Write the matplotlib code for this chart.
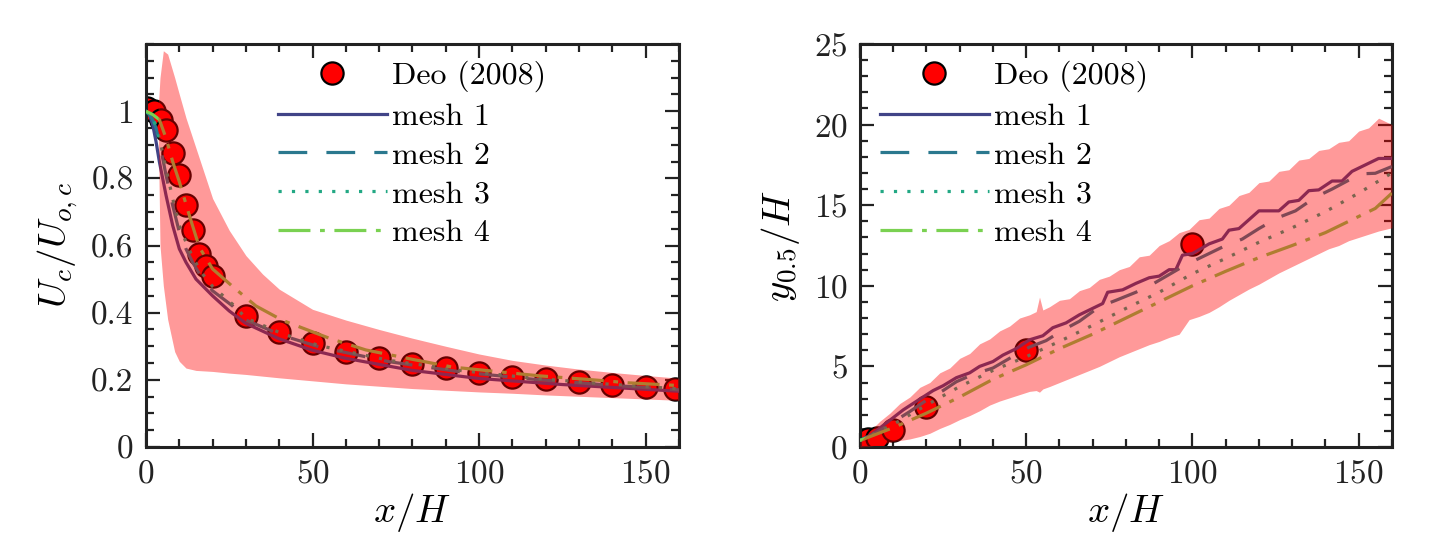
import matplotlib
matplotlib.use("Agg")
import matplotlib.pyplot as plt
from matplotlib.ticker import MultipleLocator
import numpy as np

plt.rcParams['font.family'] = 'serif'
plt.rcParams['font.serif'] = ['cmr10']
plt.rcParams['mathtext.fontset'] = 'cm'
plt.rcParams['axes.formatter.use_mathtext'] = True

# ---- left panel: centreline velocity decay ----
deo_x_u = [0.3, 2.5, 4.5, 6, 8, 10, 12, 14, 16, 18, 20, 30, 40, 50, 60, 70, 80, 90,
           100, 110, 120, 130, 140, 150, 159]
deo_u = [1.01, 1.0, 0.975, 0.945, 0.875, 0.81, 0.72, 0.645, 0.575, 0.54, 0.51, 0.39,
         0.343, 0.309, 0.284, 0.265, 0.247, 0.234, 0.221, 0.209, 0.201, 0.193, 0.186,
         0.178, 0.173]

m1_x_u = [0, 1, 2, 3, 4, 5, 6, 8, 10, 12, 15, 20, 25, 30, 40, 50, 60, 80, 100, 125, 160]
m1_u = [1.0, 0.99, 0.96, 0.91, 0.85, 0.8, 0.75, 0.66, 0.59, 0.55, 0.5, 0.45, 0.405,
        0.368, 0.322, 0.288, 0.264, 0.228, 0.204, 0.186, 0.166]
m2_x_u = [0, 1, 2, 3, 4, 5, 6, 8, 10, 12, 14, 17, 20, 26, 30, 41, 52, 73, 95, 116, 138, 160]
m2_u = [1.0, 0.99, 0.975, 0.95, 0.91, 0.86, 0.81, 0.72, 0.64, 0.59, 0.55, 0.5, 0.465,
        0.42, 0.378, 0.332, 0.298, 0.254, 0.223, 0.202, 0.185, 0.17]
m3_x_u = [0, 1, 2, 3, 4, 5, 6, 8, 10, 12, 14, 17, 20, 26, 30, 41, 52, 73, 95, 116, 138, 160]
m3_u = [1.0, 0.99, 0.98, 0.955, 0.92, 0.875, 0.83, 0.74, 0.66, 0.61, 0.565, 0.515, 0.478,
        0.425, 0.384, 0.337, 0.302, 0.258, 0.227, 0.205, 0.188, 0.173]
m4_x_u = [0, 2, 4, 6, 8, 10, 13, 16, 20, 26, 33, 41, 55, 66, 80, 92, 105, 118, 133, 145, 160]
m4_u = [1.0, 0.99, 0.975, 0.92, 0.85, 0.79, 0.69, 0.595, 0.53, 0.478, 0.42, 0.377, 0.324,
        0.289, 0.261, 0.238, 0.225, 0.212, 0.201, 0.191, 0.183]

band_x_u = [3.6, 4.2, 5.2, 6.5, 8.6, 10, 12, 15, 20, 25, 30, 35, 40, 50, 60, 70, 80, 90,
            100, 110, 120, 130, 140, 150, 160]
band_hi_u = [1.0, 1.1, 1.18, 1.17, 1.1, 1.05, 0.98, 0.89, 0.74, 0.645, 0.57, 0.515, 0.47,
             0.41, 0.378, 0.35, 0.324, 0.3, 0.277, 0.258, 0.244, 0.232, 0.222, 0.213, 0.205]
band_lo_u = [0.99, 0.6, 0.48, 0.38, 0.284, 0.255, 0.235, 0.228, 0.225, 0.22, 0.216, 0.211,
             0.206, 0.197, 0.188, 0.181, 0.174, 0.169, 0.164, 0.16, 0.155, 0.151, 0.147,
             0.143, 0.139]

# ---- right panel: half-width growth ----
deo_x_y = [0.5, 2.5, 5, 10, 20, 50, 100]
deo_y = [0.43, 0.48, 0.55, 1.05, 2.5, 6.0, 12.6]

m1_x_y = [0, 3, 8, 13, 18.6, 22, 25, 29, 33, 36, 40, 43, 47, 51, 55, 58, 62, 66, 70, 73,
          74.5, 79, 83, 87, 90, 93, 95, 97, 100, 105, 109, 111, 114, 117, 120, 126, 129,
          132, 135, 138, 142, 145, 148, 152, 156, 160]
m1_y = [0.4, 0.7, 1.5, 2.3, 3.05, 3.5, 3.8, 4.3, 4.6, 5.0, 5.3, 5.7, 6.1, 6.65, 6.9, 7.4,
        7.7, 8.2, 8.6, 8.9, 9.6, 9.75, 10.15, 10.5, 10.6, 11.0, 11.0, 11.9, 12.0, 12.6, 12.9,
        13.45, 13.55, 14.1, 14.65, 14.65, 15.2, 15.3, 15.9, 15.95, 16.5, 16.5, 17.1, 17.5,
        17.9, 17.9]
m2_x_y = [0, 5, 10, 15, 20, 25, 29, 34, 40, 45, 51, 56, 61, 66, 72, 77, 83, 88, 93, 98,
          104, 109, 115, 120, 126, 131, 137, 142, 147, 151, 155, 160]
m2_y = [0.4, 0.9, 1.55, 2.2, 2.9, 3.5, 4.05, 4.5, 4.9, 5.5, 6.2, 6.6, 7.25, 7.8, 8.7, 9.1,
        9.6, 10.1, 10.7, 11.3, 11.9, 12.4, 12.9, 13.55, 14.25, 14.65, 15.5, 16.0, 16.55,
        16.95, 16.98, 17.4]
m3_x_y = [0, 10, 20, 30, 40, 50, 60, 70, 80, 90, 100, 110, 120, 130, 140, 150, 160]
m3_y = [0.4, 1.4, 2.6, 3.75, 4.75, 5.6, 6.55, 7.55, 8.6, 9.6, 10.75, 11.7, 12.7,
        13.6, 14.6, 15.75, 17.0]
m4_x_y = [0, 10, 20, 30, 40, 50, 60, 70, 80, 90, 100, 110, 120, 130, 140, 150, 155, 160]
m4_y = [0.4, 1.2, 2.1, 3.1, 4.2, 5.1, 6.1, 7.0, 8.0, 9.0, 10.0, 10.9, 11.75, 12.5,
        13.3, 14.3, 14.8, 15.75]

band_x_y = [0, 3, 6, 9, 12, 15, 18, 21, 24, 27, 30, 33, 36, 39, 42, 45, 48, 51, 53, 54,
            55, 57, 60, 63, 66, 69, 72, 75, 78, 81, 84, 87, 90, 93, 96, 99, 102, 105, 108,
            111, 114, 117, 120, 123, 126, 129, 132, 135, 138, 141, 144, 147, 150, 153, 156,
            158, 160]
band_hi_y = [0.3, 1.0, 1.6, 2.1, 2.7, 3.1, 3.7, 4.0, 4.6, 4.9, 5.5, 5.8, 6.4, 6.7, 7.2,
             7.5, 8.0, 8.2, 8.4, 9.3, 8.5, 8.7, 9.1, 9.2, 9.7, 9.9, 10.4, 10.6, 11.0, 11.2,
             11.8, 11.9, 12.5, 12.8, 13.3, 13.5, 14.1, 14.2, 14.8, 15.0, 15.6, 15.8, 16.4,
             16.5, 17.1, 17.2, 17.8, 17.9, 18.4, 18.5, 18.9, 19.0, 19.6, 19.8, 20.4, 20.2,
             20.0]
band_lo_y = [0.0, 0.05, 0.15, 0.3, 0.4, 0.5, 0.65, 0.85, 1.15, 1.4, 1.7, 1.95, 2.25, 2.6,
             2.85, 3.05, 3.25, 3.45, 3.5, 3.4, 3.6, 3.75, 4.0, 4.25, 4.5, 4.75, 5.0, 5.3,
             5.6, 5.85, 6.1, 6.35, 6.55, 6.8, 7.0, 7.9, 8.1, 8.35, 8.7, 9.1, 9.45, 9.8,
             10.1, 10.45, 10.8, 11.1, 11.4, 11.7, 12.0, 12.3, 12.5, 12.8, 13.0, 13.2, 13.4,
             13.5, 13.6]

u_ticks = [0, 0.2, 0.4, 0.6, 0.8, 1.0]
u_ticklabels = ['0', '0.2', '0.4', '0.6', '0.8', '1']

mesh_labels = ['mesh 1', 'mesh 2', 'mesh 3', 'mesh 4']
mesh_colors = [plt.cm.viridis(v) for v in (0.2, 0.4, 0.6, 0.8)]
mesh_dashes = [(None, None), (9, 6), (1, 3.2), (10, 3, 1.5, 3)]

fs_tick = 24
fs_lab = 28
dark = '#222222'


def style_axes(ax):
    for s in ax.spines.values():
        s.set_linewidth(2.2)
        s.set_color(dark)
    ax.tick_params(which='both', direction='in', top=True, right=True,
                   labelsize=fs_tick, colors=dark, width=1.6, pad=9)
    ax.tick_params(which='major', length=10)
    ax.tick_params(which='minor', length=5.5)


def draw(ax, deo, meshes, band):
    ax.plot(deo[0], deo[1], 'o', ms=16, mfc='#ff0000', mec='black', mew=1.6,
            label='Deo (2008)', zorder=2)
    for (mx, my), lab, c, d in zip(meshes, mesh_labels, mesh_colors, mesh_dashes):
        ln, = ax.plot(mx, my, color=c, lw=2.3, label=lab, zorder=3)
        if d[0] is not None:
            ln.set_dashes(d)
    ax.fill_between(band[0], band[2], band[1], color='red', alpha=0.4, lw=0, zorder=4)


def add_legend(ax, x0):
    ax.legend(loc='upper left', bbox_to_anchor=(x0, 0.958), frameon=False,
              fontsize=23, handlelength=3.4, handletextpad=0.15, labelspacing=0.32,
              borderpad=0, borderaxespad=0)


fig = plt.figure(figsize=(14.4, 5.6), dpi=100)
ax1 = fig.add_axes([0.1014, 0.2018, 0.37, 0.7196])
ax2 = fig.add_axes([0.5972, 0.2018, 0.3694, 0.7196])

draw(ax1, (deo_x_u, deo_u),
     [(m1_x_u, m1_u), (m2_x_u, m2_u), (m3_x_u, m3_u), (m4_x_u, m4_u)],
     (band_x_u, band_hi_u, band_lo_u))
ax1.set_xlim(0, 160)
ax1.set_ylim(0, 1.2)
ax1.xaxis.set_major_locator(MultipleLocator(50))
ax1.xaxis.set_minor_locator(MultipleLocator(10))
ax1.set_yticks(u_ticks)
ax1.set_yticklabels(u_ticklabels)
ax1.yaxis.set_minor_locator(MultipleLocator(0.05))
ax1.set_xlabel('$x/H$', fontsize=fs_lab, labelpad=2)
ax1.set_ylabel('$U_c/U_{o,c}$', fontsize=fs_lab, labelpad=8)
style_axes(ax1)
add_legend(ax1, 0.248)

draw(ax2, (deo_x_y, deo_y),
     [(m1_x_y, m1_y), (m2_x_y, m2_y), (m3_x_y, m3_y), (m4_x_y, m4_y)],
     (band_x_y, band_hi_y, band_lo_y))
ax2.set_xlim(0, 160)
ax2.set_ylim(0, 25)
ax2.xaxis.set_major_locator(MultipleLocator(50))
ax2.xaxis.set_minor_locator(MultipleLocator(10))
ax2.yaxis.set_major_locator(MultipleLocator(5))
ax2.yaxis.set_minor_locator(MultipleLocator(1))
ax2.set_xlabel('$x/H$', fontsize=fs_lab, labelpad=2)
ax2.set_ylabel('$y_{0.5}/H$', fontsize=fs_lab, labelpad=8)
style_axes(ax2)
add_legend(ax2, 0.038)

fig.savefig('out.png', dpi=100)
